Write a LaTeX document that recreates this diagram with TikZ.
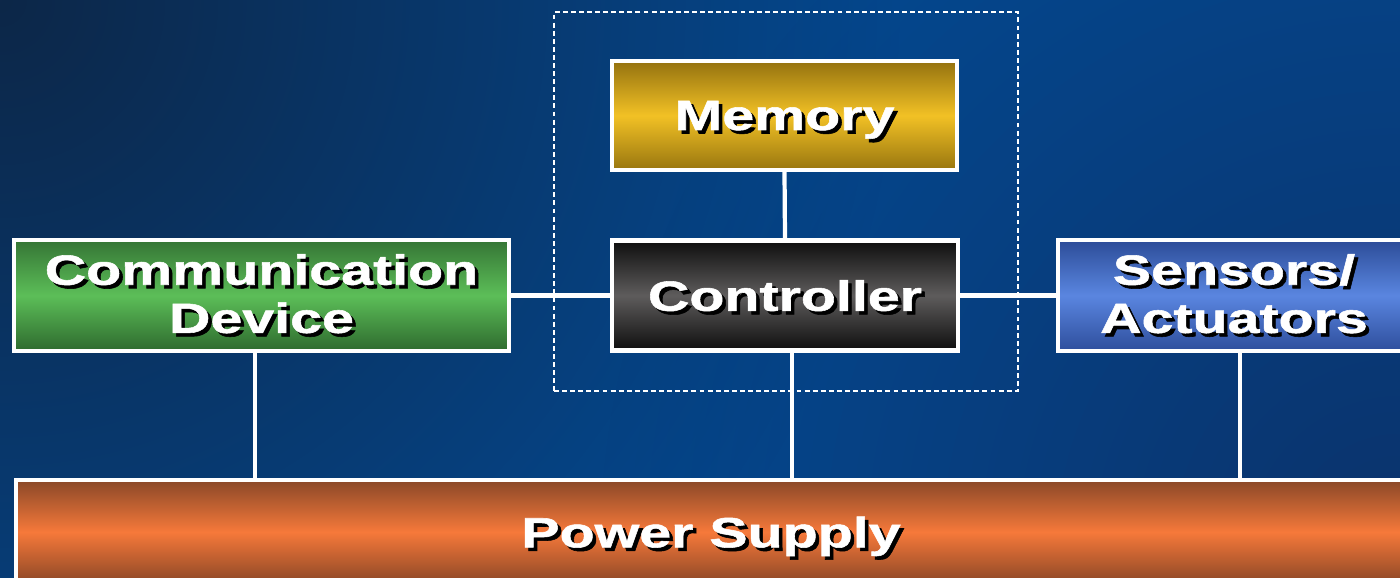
\documentclass[tikz,border=0pt]{standalone}
\usepackage{fontspec}
\usetikzlibrary{fadings}
\newfontfamily\lbl{Liberation Sans}[FakeStretch=1.36, FakeBold=1.3]
\definecolor{bgTL}{HTML}{0D2748}
\definecolor{bgBR}{HTML}{0B336C}
\definecolor{bgmid}{HTML}{04488F}
\definecolor{memT}{HTML}{94720F}
\definecolor{memM}{HTML}{F2C125}
\definecolor{memB}{HTML}{98760F}
\definecolor{ctlT}{HTML}{0E0E0E}
\definecolor{ctlM}{HTML}{5E5C5C}
\definecolor{ctlB}{HTML}{0E0E0E}
\definecolor{comT}{HTML}{357535}
\definecolor{comM}{HTML}{5CBE58}
\definecolor{comB}{HTML}{2E6A2E}
\definecolor{senT}{HTML}{2C4C98}
\definecolor{senM}{HTML}{5A86E0}
\definecolor{senB}{HTML}{2E4E9C}
\definecolor{powT}{HTML}{8A4828}
\definecolor{powM}{HTML}{F6793A}
\definecolor{powB}{HTML}{8A4626}
\tikzfading[name=softspot, inner color=transparent!0, outer color=transparent!100]
\newcommand\sh[1]{\leavevmode\rlap{\kern1pt\raisebox{-1pt}{\color{black}#1}}{\color{white}#1}}
\begin{document}
\begin{tikzpicture}[x=1cm,y=1cm,
  box/.style={draw=white, line width=1.2pt, rectangle, inner sep=0pt,
    font=\lbl\bfseries\fontsize{12}{13.7}\selectfont, align=center},
  oneline/.style={text depth=0pt},
  link/.style={draw=white, line width=1.2pt},
  grp/.style={draw=white, dash pattern=on 1.4pt off 0.9pt, line width=0.55pt,
    rectangle, inner sep=0pt}]
\useasboundingbox (0,0) rectangle (14,5.78);
\clip (0,0) rectangle (14,5.78);
\fill[bgmid] (0,0) rectangle (14,5.78);
\fill[bgTL, path fading=softspot] (0,5.78) circle (9);
\fill[bgBR, path fading=softspot] (14,0.3) circle (8);

\node[grp, minimum width=4.64cm, minimum height=3.79cm] (group) at (7.86,3.765) {};

\node[box, oneline, minimum width=3.45cm, minimum height=1.09cm,
  top color=memT, bottom color=memB, middle color=memM] (mem) at (7.845,4.625) {\sh{Memory}};
\node[box, oneline, minimum width=3.46cm, minimum height=1.10cm,
  top color=ctlT, bottom color=ctlB, middle color=ctlM] (ctrl) at (7.85,2.825) {\sh{Controller}};
\node[box, minimum width=4.95cm, minimum height=1.11cm,
  top color=comT, bottom color=comB, middle color=comM] (comm) at (2.615,2.825) {\sh{Communication}\\\sh{Device}};
\node[box, minimum width=3.52cm, minimum height=1.11cm,
  top color=senT, bottom color=senB, middle color=senM] (sens) at (12.34,2.825) {\sh{Sensors/}\\\sh{Actuators}};
\node[box, oneline, minimum width=13.9cm, minimum height=1.04cm,
  top color=powT, bottom color=powB, middle color=powM] (power) at (7.11,0.46) {\sh{Power Supply}};

\draw[link] (mem.south) -- (ctrl.north);
\draw[link] (comm.east) -- (ctrl.west);
\draw[link] (ctrl.east) -- (sens.west);
\draw[link] ([xshift=0.07cm]ctrl.south) -- ([xshift=0.07cm]ctrl.south |- power.north);
\draw[link] ([xshift=-0.065cm]comm.south) -- ([xshift=-0.065cm]comm.south |- power.north);
\draw[link] ([xshift=0.06cm]sens.south) -- ([xshift=0.06cm]sens.south |- power.north);
\end{tikzpicture}
\end{document}
